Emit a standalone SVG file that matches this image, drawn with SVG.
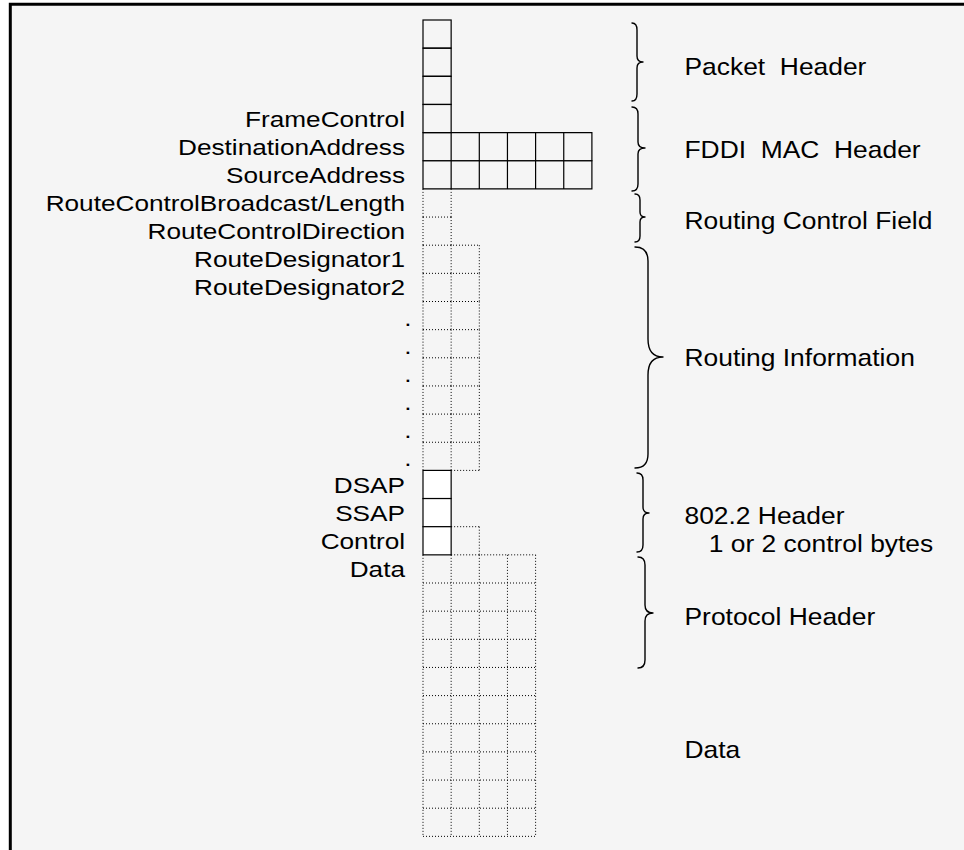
<svg xmlns="http://www.w3.org/2000/svg" width="964" height="850" viewBox="0 0 964 850">
<style>
.bg{fill:#f5f5f5}
.frame{fill:none;stroke:#000;stroke-width:3}
.solid{fill:none;stroke:#000;stroke-width:1.2}
.solidw{fill:#fff;stroke:#000;stroke-width:1.2}
.dot{fill:none;stroke:#000;stroke-width:1;stroke-dasharray:1 2}
.lbl{font-family:"Liberation Sans",Arial,sans-serif;font-size:22px;fill:#000;text-anchor:end}
.dt{font-family:"Liberation Sans",Arial,sans-serif;font-size:22px;fill:#000;text-anchor:middle}
.rl{font-family:"Liberation Sans",Arial,sans-serif;font-size:24px;fill:#000}
.brace{fill:none;stroke:#000;stroke-width:1.4;stroke-linejoin:round;stroke-linecap:round}
</style>
<rect x="0" y="0" width="964" height="850" fill="#fff"/>
<rect class="bg" x="10" y="4" width="954" height="846"/>
<path class="frame" d="M10.3,850 V4.2 H964"/>

<g id="packet-header">
<rect class="solid" x="423" y="20" width="28.15" height="28.15"/>
<rect class="solid" x="423" y="48.15" width="28.15" height="28.15"/>
<rect class="solid" x="423" y="76.3" width="28.15" height="28.15"/>
</g>
<g id="frame-control">
<rect class="solid" x="423" y="104.45" width="28.15" height="28.15"/>
<text class="lbl" transform="translate(405 126.5) scale(1.19 1)">FrameControl</text>
</g>
<g id="destination-address">
<path class="solid" d="M423,132.6 H591.9 V160.75 H423 Z M451.15,132.6 V160.75 M479.3,132.6 V160.75 M507.45,132.6 V160.75 M535.6,132.6 V160.75 M563.75,132.6 V160.75"/>
<text class="lbl" transform="translate(405 154.7) scale(1.19 1)">DestinationAddress</text>
</g>
<g id="source-address">
<path class="solid" d="M423,160.75 H591.9 V188.9 H423 Z M451.15,160.75 V188.9 M479.3,160.75 V188.9 M507.45,160.75 V188.9 M535.6,160.75 V188.9 M563.75,160.75 V188.9"/>
<text class="lbl" transform="translate(405 182.8) scale(1.19 1)">SourceAddress</text>
</g>
<g id="route-control-broadcast">
<path class="dot" d="M423,188.9 V217.05 M451.15,188.9 V217.05"/>
<text class="lbl" transform="translate(405 211) scale(1.19 1)">RouteControlBroadcast/Length</text>
</g>
<g id="route-control-direction">
<path class="dot" d="M423,217.05 H451.15 M423,217.05 V245.2 M451.15,217.05 V245.2"/>
<text class="lbl" transform="translate(405 239.1) scale(1.19 1)">RouteControlDirection</text>
</g>
<g id="route-designator1">
<path class="dot" d="M423,245.2 H479.3 M423,245.2 V273.35 M451.15,245.2 V273.35 M479.3,245.2 V273.35"/>
<text class="lbl" transform="translate(405 267.3) scale(1.19 1)">RouteDesignator1</text>
</g>
<g id="route-designator2">
<path class="dot" d="M423,273.35 H479.3 M423,273.35 V301.5 M451.15,273.35 V301.5 M479.3,273.35 V301.5"/>
<text class="lbl" transform="translate(405 295.4) scale(1.19 1)">RouteDesignator2</text>
</g>
<g id="route-designator3">
<path class="dot" d="M423,301.5 H479.3 M423,301.5 V329.65 M451.15,301.5 V329.65 M479.3,301.5 V329.65"/>
<text class="dt" transform="translate(408 325.5) scale(1.19 1)">.</text>
</g>
<g id="route-designator4">
<path class="dot" d="M423,329.65 H479.3 M423,329.65 V357.8 M451.15,329.65 V357.8 M479.3,329.65 V357.8"/>
<text class="dt" transform="translate(408 353.8) scale(1.19 1)">.</text>
</g>
<g id="route-designator5">
<path class="dot" d="M423,357.8 H479.3 M423,357.8 V385.95 M451.15,357.8 V385.95 M479.3,357.8 V385.95"/>
<text class="dt" transform="translate(408 381.8) scale(1.19 1)">.</text>
</g>
<g id="route-designator6">
<path class="dot" d="M423,385.95 H479.3 M423,385.95 V414.1 M451.15,385.95 V414.1 M479.3,385.95 V414.1"/>
<text class="dt" transform="translate(408 409.8) scale(1.19 1)">.</text>
</g>
<g id="route-designator7">
<path class="dot" d="M423,414.1 H479.3 M423,414.1 V442.25 M451.15,414.1 V442.25 M479.3,414.1 V442.25"/>
<text class="dt" transform="translate(408 438.2) scale(1.19 1)">.</text>
</g>
<g id="route-designator8">
<path class="dot" d="M423,442.25 H479.3 M423,442.25 V470.4 M451.15,442.25 V470.4 M479.3,442.25 V470.4 M451.15,470.4 H479.3"/>
<text class="dt" transform="translate(408 465.8) scale(1.19 1)">.</text>
</g>
<g id="dsap">
<rect class="solidw" x="423" y="470.4" width="28.15" height="28.15"/>
<text class="lbl" transform="translate(405 492.5) scale(1.19 1)">DSAP</text>
</g>
<g id="ssap">
<rect class="solidw" x="423" y="498.55" width="28.15" height="28.15"/>
<text class="lbl" transform="translate(405 520.6) scale(1.19 1)">SSAP</text>
</g>
<g id="control">
<path class="dot" d="M451.15,526.7 H479.3 M479.3,526.7 V554.85"/>
<rect class="solidw" x="423" y="526.7" width="28.15" height="28.15"/>
<text class="lbl" transform="translate(405 548.8) scale(1.19 1)">Control</text>
</g>
<g id="data">
<path class="dot" d="M451.15,554.85 H535.6 M423,583 H535.6 M423,611.15 H535.6 M423,639.3 H535.6 M423,667.45 H535.6 M423,695.6 H535.6 M423,723.75 H535.6 M423,751.9 H535.6 M423,780.05 H535.6 M423,808.2 H535.6 M423,836.35 H535.6 M423,554.85 V836.35 M451.15,554.85 V836.35 M479.3,554.85 V836.35 M507.45,554.85 V836.35 M535.6,554.85 V836.35"/>
<text class="lbl" transform="translate(405 576.9) scale(1.19 1)">Data</text>
</g>

<g id="braces">
<path class="brace" d="M632,23 Q637,23 637,30 L637,56 Q637,62 643,62 Q637,62 637,68 L637,94 Q637,101 632,101"/>
<path class="brace" d="M632,107 Q638,107 638,114 L638,142 Q638,148 645,148 Q638,148 638,154 L638,184 Q638,191 632,191"/>
<path class="brace" d="M635,194 Q640,194 640,200 L640,212 Q640,217 645,217 Q640,217 640,222 L640,236 Q640,242 635,242"/>
<path class="brace" d="M635,247 Q648,247 648,261 L648,339 Q648,357 663,357 Q648,357 648,375 L648,454 Q648,468 635,468"/>
<path class="brace" d="M637,473 Q643,473 643,480 L643,507 Q643,513 649,513 Q643,513 643,519 L643,545 Q643,552 637,552"/>
<path class="brace" d="M638,557 Q645,557 645,565 L645,605 Q645,613 653,613 Q645,613 645,621 L645,660 Q645,668 638,668"/>
</g>

<g id="section-labels">
<text class="rl" xml:space="preserve" transform="translate(684.5 75) scale(1.1 1)">Packet  Header</text>
<text class="rl" xml:space="preserve" transform="translate(684.5 158.3) scale(1.1 1)">FDDI  MAC  Header</text>
<text class="rl" transform="translate(684.5 229.3) scale(1.1 1)">Routing Control Field</text>
<text class="rl" transform="translate(684.5 366) scale(1.1 1)">Routing Information</text>
<text class="rl" transform="translate(684.5 524.3) scale(1.1 1)">802.2 Header</text>
<text class="rl" transform="translate(708.8 551.7) scale(1.1 1)">1 or 2 control bytes</text>
<text class="rl" transform="translate(684.5 625) scale(1.1 1)">Protocol Header</text>
<text class="rl" transform="translate(684.5 758) scale(1.1 1)">Data</text>
</g>
</svg>
